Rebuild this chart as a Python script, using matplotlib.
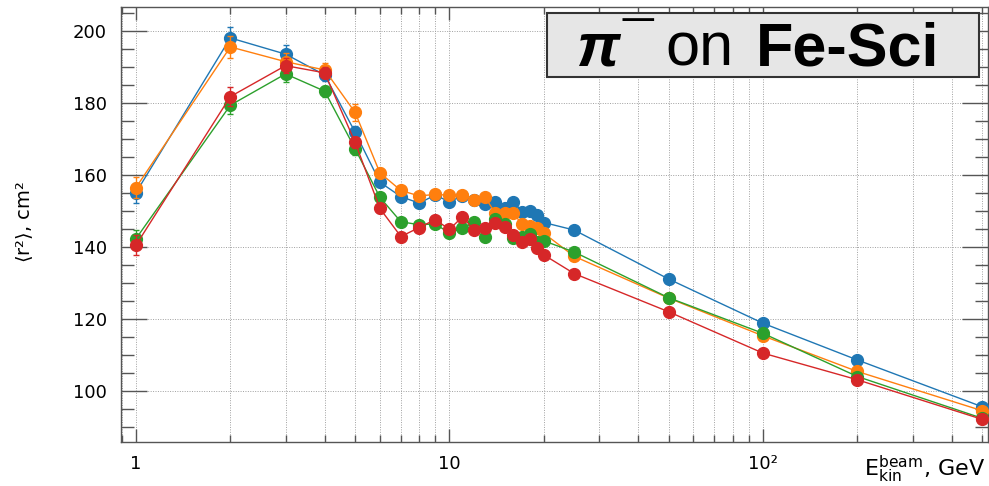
import matplotlib

matplotlib.use("Agg")

import matplotlib.pyplot as plt
from matplotlib.patches import Rectangle
from matplotlib.ticker import FixedFormatter, FixedLocator, LogLocator, MultipleLocator, NullFormatter

FIG_W_PX = 989
FIG_H_PX = 486
DPI = 100

AX_LEFT_PX = 121
AX_RIGHT_PX = 988
AX_TOP_PX = 7
AX_BOTTOM_PX = 442

X_MIN = 0.896
X_MAX = 522.0
Y_MIN = 85.8
Y_MAX = 206.7

FRAME_GREY = "#555555"
GRID_GREY = "#a0a0a0"
BOX_FACE = "#e6e6e6"
SERIES_COLORS = ["#1f77b4", "#ff7f0e", "#2ca02c", "#d62728"]

TICK_FONT = "DejaVu Sans"
TITLE_FONT = "Liberation Sans"
TICK_SIZE = 13
LABEL_SIZE = 14
XLABEL_SIZE = 16
TITLE_SIZE = 44

# beam kinetic energy, GeV
ENERGY = [1, 2, 3, 4, 5, 6, 7, 8, 9, 10, 11, 12, 13, 14, 15, 16, 17, 18, 19, 20, 25, 50, 100, 200, 500]

R2_BLUE = [155.1, 198.1, 193.6, 187.8, 171.9, 158.0, 154.0, 152.2, 154.4, 152.6, 154.2, 153.0, 151.9,
           152.5, 150.9, 152.6, 149.8, 150.1, 148.8, 146.8, 144.7, 131.1, 118.8, 108.6, 95.6]
R2_ORANGE = [156.5, 195.6, 191.5, 189.2, 177.4, 160.6, 155.7, 154.2, 154.6, 154.4, 154.4, 153.1, 153.8,
             149.4, 149.4, 149.4, 146.4, 145.9, 145.4, 143.8, 137.4, 125.8, 115.3, 105.4, 94.5]
R2_GREEN = [142.3, 179.4, 188.1, 183.3, 167.3, 153.8, 147.0, 146.2, 146.4, 143.9, 145.2, 146.9, 142.9,
            147.9, 146.3, 142.6, 142.8, 143.6, 141.5, 141.7, 138.6, 125.9, 116.0, 104.0, 92.4]
R2_RED = [140.5, 181.8, 190.4, 188.4, 169.1, 150.7, 142.9, 145.4, 147.6, 144.9, 148.4, 144.7, 145.2,
          146.8, 145.6, 143.2, 141.3, 142.2, 139.6, 137.8, 132.6, 122.0, 110.5, 103.1, 92.1]

ERR_BLUE = [2.8, 3.0, 2.5, 1.8, 1.7, 1.3, 1.0, 1.0, 1.0, 1.0, 1.0, 1.0, 1.0,
            1.0, 1.0, 1.0, 1.0, 1.0, 1.0, 1.0, 0.8, 0.6, 0.5, 0.5, 0.5]
ERR_ORANGE = [3.0, 3.1, 2.3, 2.0, 2.3, 1.3, 1.0, 1.0, 1.0, 1.0, 1.0, 1.0, 1.0,
              1.0, 1.0, 1.0, 1.0, 1.0, 1.0, 1.0, 0.8, 0.6, 0.5, 0.5, 0.5]
ERR_GREEN = [2.4, 2.5, 2.2, 1.5, 1.7, 1.3, 1.0, 1.0, 1.0, 1.0, 1.0, 1.0, 1.0,
             1.0, 1.0, 1.0, 1.0, 1.0, 1.0, 1.0, 0.8, 0.6, 0.5, 0.5, 0.5]
ERR_RED = [2.7, 2.6, 2.0, 1.5, 1.5, 1.3, 1.0, 1.0, 1.0, 1.0, 1.0, 1.0, 1.0,
           1.0, 1.0, 1.0, 1.0, 1.0, 1.0, 1.0, 0.8, 0.6, 0.5, 0.5, 0.5]

X_MAJOR_TICKS = [1, 10, 100]
X_TICK_LABELS = ["1", "10", "10\u00b2"]
Y_MAJOR_TICKS = [100, 120, 140, 160, 180, 200]


def fx(px):
    return px / FIG_W_PX


def fy(px_from_top):
    return 1.0 - px_from_top / FIG_H_PX


def create_figure():
    fig = plt.figure(figsize=(FIG_W_PX / DPI, FIG_H_PX / DPI), dpi=DPI)
    ax = fig.add_axes([
        fx(AX_LEFT_PX),
        fy(AX_BOTTOM_PX),
        (AX_RIGHT_PX - AX_LEFT_PX) / FIG_W_PX,
        (AX_BOTTOM_PX - AX_TOP_PX) / FIG_H_PX,
    ])
    return fig, ax


def plot_series(ax):
    series = [
        (R2_BLUE, ERR_BLUE),
        (R2_ORANGE, ERR_ORANGE),
        (R2_GREEN, ERR_GREEN),
        (R2_RED, ERR_RED),
    ]
    for index, ((values, errors), color) in enumerate(zip(series, SERIES_COLORS)):
        ax.errorbar(
            ENERGY, values, yerr=errors,
            fmt="-o", color=color, lw=1.0, ms=8.5, mec=color,
            elinewidth=1.0, capsize=2, capthick=1.0, zorder=3 + index,
        )


def style_axis(ax):
    ax.set_xscale("log")
    ax.set_xlim(X_MIN, X_MAX)
    ax.set_ylim(Y_MIN, Y_MAX)

    ax.xaxis.set_major_locator(FixedLocator(X_MAJOR_TICKS))
    ax.xaxis.set_major_formatter(FixedFormatter(X_TICK_LABELS))
    ax.xaxis.set_minor_locator(LogLocator(base=10, subs=range(2, 10), numticks=20))
    ax.xaxis.set_minor_formatter(NullFormatter())
    ax.yaxis.set_major_locator(FixedLocator(Y_MAJOR_TICKS))
    ax.yaxis.set_minor_locator(MultipleLocator(5))

    ax.grid(True, axis="x", which="both", color=GRID_GREY, ls=(0, (1, 1.5)), lw=0.7)
    ax.grid(True, axis="y", which="major", color=GRID_GREY, ls=(0, (1, 1.5)), lw=0.7)
    ax.set_axisbelow(True)

    for spine in ax.spines.values():
        spine.set_color(FRAME_GREY)
        spine.set_linewidth(1.0)

    ax.tick_params(which="both", direction="in", top=True, right=True, color=FRAME_GREY, width=1.0)
    ax.tick_params(axis="y", which="major", length=18.5, pad=10)
    ax.tick_params(axis="y", which="minor", length=9.3)
    ax.tick_params(axis="x", which="major", length=9.3, pad=9)
    ax.tick_params(axis="x", which="minor", length=4.7)
    for label in ax.get_xticklabels() + ax.get_yticklabels():
        label.set_fontfamily(TICK_FONT)
        label.set_fontsize(TICK_SIZE)


def add_labels(fig):
    fig.text(fx(25), fy(222), r"$\langle$r²$\rangle$, cm²", rotation=90,
             ha="center", va="center", fontsize=LABEL_SIZE, family=TICK_FONT)
    fig.text(fx(985), fy(485), r"$\mathregular{E^{beam}_{kin}}$, GeV",
             ha="right", va="bottom", fontsize=XLABEL_SIZE, family=TICK_FONT)


def add_title_box(fig):
    fig.add_artist(Rectangle(
        (fx(547), fy(77)), (979 - 547) / FIG_W_PX, (77 - 13) / FIG_H_PX,
        transform=fig.transFigure, facecolor=BOX_FACE, edgecolor="#333333", lw=1.5, zorder=10,
    ))
    baseline = fy(65)
    fig.text(fx(577), baseline, "π", fontsize=TITLE_SIZE, family=TITLE_FONT,
             fontweight="bold", style="italic", va="baseline", zorder=11)
    # superscript minus drawn as a macron so it sits high above the pi
    fig.text(fx(622), fy(61), "\u00af", fontsize=40, family=TITLE_FONT,
             fontweight="bold", va="baseline", zorder=11)
    fig.text(fx(665.5), baseline, "on", fontsize=TITLE_SIZE, family=TITLE_FONT,
             va="baseline", zorder=11)
    fig.text(fx(756), baseline, "Fe-Sci", fontsize=TITLE_SIZE, family=TITLE_FONT,
             fontweight="bold", va="baseline", zorder=11)


def main():
    fig, ax = create_figure()
    plot_series(ax)
    style_axis(ax)
    add_labels(fig)
    add_title_box(fig)
    fig.savefig("out.png", dpi=DPI, facecolor="white")
    plt.close(fig)


if __name__ == "__main__":
    main()
